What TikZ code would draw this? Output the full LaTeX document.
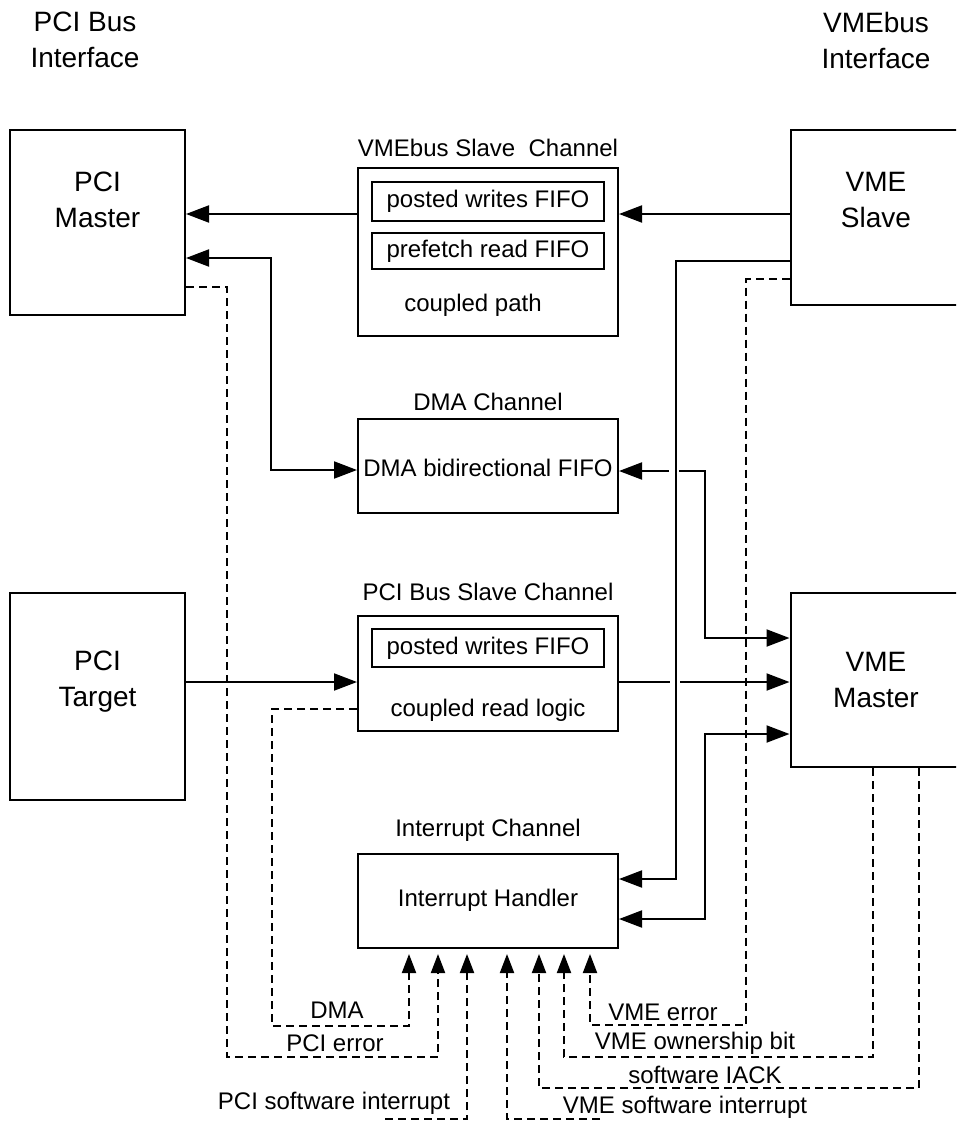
\documentclass[tikz,border=0pt]{standalone}
\usepackage{fontspec}
\setmainfont{Liberation Sans}
\usetikzlibrary{arrows.meta,calc}

\tikzset{
  unit/.style={draw, line width=2pt, inner sep=0pt, minimum width=175pt},
  chan/.style={draw, line width=2pt, inner sep=0pt, minimum width=260pt},
  txt/.style={inner sep=0pt, font=\fontsize{24}{29}\selectfont},
  fifo/.style={txt, draw, line width=1.6pt, minimum width=232pt},
  big/.style={inner sep=0pt, align=center, font=\fontsize{28}{36}\selectfont},
  wire/.style={line width=2pt},
  data/.style={wire, -{Triangle[length=23pt,width=17pt]}},
  both/.style={wire, {Triangle[length=23pt,width=17pt]}-{Triangle[length=23pt,width=17pt]}},
  sig/.style={wire, dash pattern=on 8pt off 5pt, -{Triangle[length=19pt,width=14pt]}, shorten >=5pt},
}

\begin{document}
\begin{tikzpicture}[x=1pt,y=-1pt]
  \useasboundingbox (0,0) rectangle (956,1124);
  \clip (0,0) rectangle (956,1124);

  % interfaces
  \node[big] (pcihd) at (85,40) {PCI Bus\\Interface};
  \node[big] (vmehd) at (876,40) {VMEbus\\Interface};

  \node[unit, minimum height=185pt] (pm) at (97.5,222.5) {};
  \node[big] (pmtxt) at (97.5,200) {PCI\\Master};
  \node[unit, minimum height=207pt] (pt) at (97.5,696.5) {};
  \node[big] (pttxt) at (97.5,682) {PCI\\Target};
  \node[unit, minimum height=175pt] (vs) at (878,217.5) {};
  \node[big] (vstxt) at (876,200) {VME\\Slave};
  \node[unit, minimum height=174pt] (vm) at (878,680) {};
  \node[big] (vmtxt) at (876,680) {VME\\Master};

  % channels
  \node[chan, minimum height=168pt] (vsc) at (488,252) {};
  \node[txt] (vsctl) at (488,148) {VMEbus Slave\ \ Channel};
  \node[fifo, minimum height=39pt] (pwf1) at (488,201.5) {posted writes FIFO};
  \node[fifo, minimum height=36pt] (prf) at (488,251) {prefetch read FIFO};
  \node[txt] (cpath) at (473,305) {coupled path};

  \node[chan, minimum height=94pt] (dma) at (488,466) {};
  \node[txt] (dmatl) at (488,402) {DMA Channel};
  \node[txt] (dmatxt) at (488,468) {DMA bidirectional FIFO};

  \node[chan, minimum height=115pt] (pbs) at (488,673.5) {};
  \node[txt] (pbstl) at (488,592) {PCI Bus Slave Channel};
  \node[fifo, minimum height=38pt] (pwf2) at (488,648) {posted writes FIFO};
  \node[txt] (crl) at (488,710) {coupled read logic};

  \node[chan, minimum height=94pt] (ih) at (488,901) {};
  \node[txt] (ihtl) at (488,830) {Interrupt Channel};
  \node[txt] (ihtxt) at (488,900) {Interrupt Handler};

  % gaps where lines cross the bus line
  \coordinate (g1l) at (669,471);
  \coordinate (g1r) at (679,471);
  \coordinate (g2l) at (670,682);
  \coordinate (g2r) at (680,682);

  % data paths
  \draw[data] (vs.west |- 0,214) -- (vsc.east |- 0,214);
  \draw[data] (vsc.west |- 0,214) -- (pm.east |- 0,214);
  \draw[both] (pm.east |- 0,258) -| (271,470) -- (dma.west |- 0,470);
  \draw[data] (g1l) -- (dma.east |- 0,471);
  \draw[data] (g1r) -| (705,638) -- (vm.west |- 0,638);
  \draw[data] (pt.east |- 0,682) -- (pbs.west |- 0,682);
  \draw[wire] (pbs.east |- 0,682) -- (g2l);
  \draw[data] (g2r) -- (vm.west |- 0,682);
  \draw[data] (vs.west |- 0,261) -| (676,879) -- (ih.east |- 0,879);
  \draw[both] (vm.west |- 0,734) -| (705,919) -- (ih.east |- 0,919);

  % interrupt sources
  \draw[sig] (pbs.west |- 0,709) -| (272,1026) -| (ih.south -| 409,0);
  \draw[sig] (pm.east |- 0,287) -| (227,1057) -| (ih.south -| 438,0);
  \draw[sig] (385,1119) -| (ih.south -| 467,0);
  \draw[sig] (600,1119) -| (ih.south -| 507,0);
  \draw[sig] (vm.south -| 919,0) |- (539,1088) -- (ih.south -| 539,0);
  \draw[sig] (vm.south -| 873,0) |- (564,1057) -- (ih.south -| 564,0);
  \draw[sig] (vs.west |- 0,279) -| (746,1025) -| (ih.south -| 590,0);

  \node[txt] (ldma) at (337,1010) {DMA};
  \node[txt] (lpcie) at (335,1043) {PCI error};
  \node[txt] (lpcisw) at (334,1103) {PCI software interrupt};
  \node[txt] (lvmee) at (663,1012) {VME error};
  \node[txt] (lown) at (695,1043) {VME ownership bit};
  \node[txt] (liack) at (705,1075) {software IACK};
  \node[txt] (lvmesw) at (685,1107) {VME software interrupt};
\end{tikzpicture}
\end{document}
